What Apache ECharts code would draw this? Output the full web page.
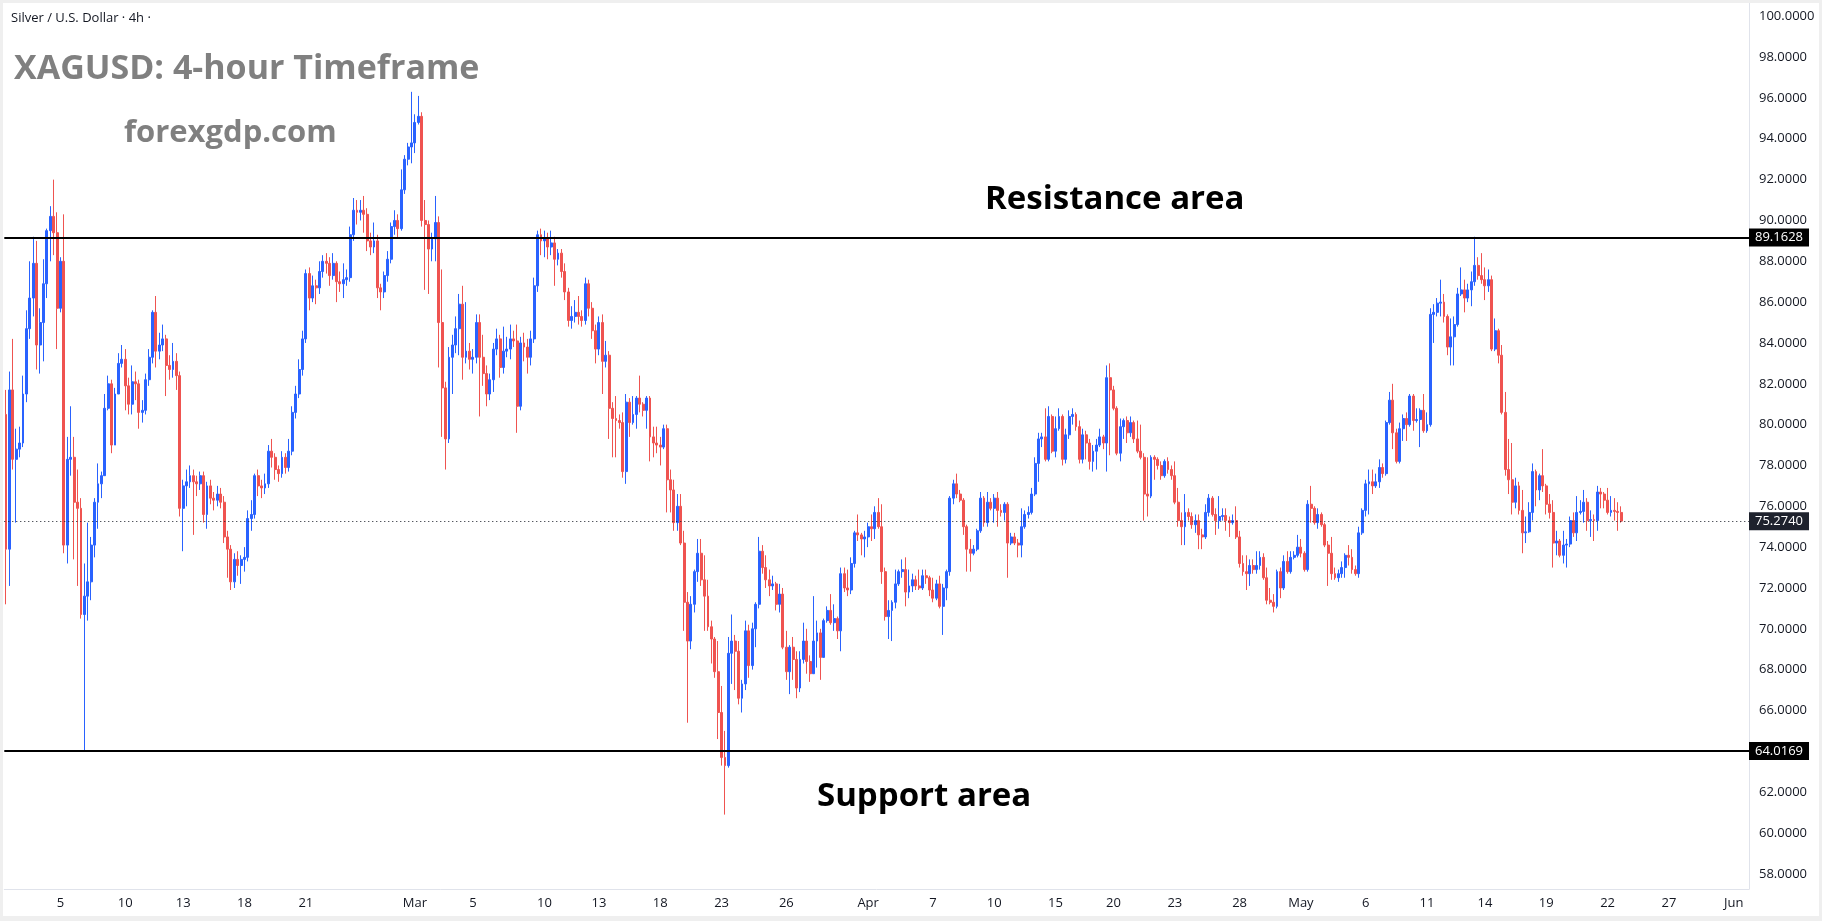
<!DOCTYPE html>
<html>
<head>
<meta charset="utf-8">
<title>XAGUSD 4h</title>
<script src="https://cdn.jsdelivr.net/npm/echarts@6/dist/echarts.min.js"></script>
<style>
  html, body { margin: 0; padding: 0; background: #efefef; width: 1822px; height: 921px; overflow: hidden; }
  #chart { position: absolute; left: 3px; top: 3px; width: 1816px; height: 913px; background: #fff; }
</style>
</head>
<body>
<div id="chart"></div>
<script>
// 4h candles: [open, close, low, high]
const candles = [
  [80.5,73.9,71.2,81.7],[73.9,81.7,72.1,82.6],[81.7,78.3,77.8,84.2],[78.3,78.8,75.2,79.8],[78.8,79.1,78.4,79.9],
  [79.1,81.5,78.9,82.4],[81.5,84.7,81.1,85.6],[84.7,86.2,84.2,88.0],[86.2,87.9,85.3,89.2],[87.9,83.9,82.7,89.0],
  [83.9,85.0,82.5,85.7],[85.0,86.9,83.1,88.1],[86.9,89.5,86.2,89.6],[89.5,90.2,88.0,90.7],[90.2,89.4,88.3,92.0],
  [89.4,85.7,83.7,90.4],[85.7,88.0,85.5,88.2],[88.0,74.1,73.7,90.3],[74.1,78.3,73.2,79.4],[78.3,78.4,77.5,80.9],
  [78.4,76.2,73.4,79.4],[76.2,75.9,72.1,77.8],[75.9,70.7,70.5,76.4],[70.7,71.6,64.0,73.2],[71.6,72.3,70.4,75.2],
  [72.3,74.1,71.4,74.5],[74.1,76.2,73.5,76.4],[76.2,77.1,74.9,78.1],[77.1,77.5,76.4,77.7],[77.5,80.8,77.5,81.5],
  [80.8,82.0,80.7,82.4],[82.0,79.0,78.6,82.2],[79.0,81.5,79.0,81.8],[81.5,83.0,81.5,83.5],[83.0,83.2,82.8,83.9],
  [83.2,81.9,80.7,83.7],[81.9,81.0,80.5,82.3],[81.0,82.1,80.5,82.9],[82.1,82.0,81.2,82.6],[82.0,80.6,79.8,82.2],
  [80.6,80.7,80.1,81.2],[80.7,82.2,80.5,82.5],[82.2,83.3,81.9,83.7],[83.3,85.5,83.0,85.6],[85.5,83.6,82.8,86.3],
  [83.6,83.9,83.2,84.5],[83.9,84.2,83.6,84.9],[84.2,82.9,81.4,84.4],[82.9,82.7,82.2,83.4],[82.7,83.1,82.3,84.0],
  [83.1,82.4,81.7,83.5],[82.4,75.9,75.5,82.6],[75.9,77.0,73.8,77.3],[77.0,77.2,76.0,77.8],[77.2,77.5,76.9,78.0],
  [77.5,77.2,74.6,77.8],[77.2,77.1,76.5,77.5],[77.1,77.5,76.8,77.7],[77.5,75.6,75.2,77.7],[75.6,77.0,74.9,77.2],
  [77.0,76.4,76.1,77.3],[76.4,76.3,75.8,76.7],[76.3,76.6,76.0,77.0],[76.6,76.2,75.9,76.9],[76.2,74.5,74.2,76.5],
  [74.5,73.9,72.5,74.8],[73.9,72.3,71.9,74.1],[72.3,73.4,72.0,73.7],[73.4,73.1,72.6,73.8],[73.1,73.4,72.2,73.6],
  [73.4,73.5,72.8,74.0],[73.5,75.4,73.3,75.8],[75.4,75.6,74.8,76.3],[75.6,77.5,75.4,77.6],[77.5,77.0,76.5,77.8],
  [77.0,76.9,76.4,77.3],[76.9,77.1,76.6,77.6],[77.1,78.7,76.9,79.0],[78.7,78.4,77.9,79.3],[78.4,77.8,77.3,78.6],
  [77.8,77.6,77.2,78.0],[77.6,78.4,77.4,78.7],[78.4,77.9,77.6,78.6],[77.9,78.7,77.7,79.3],[78.7,80.6,78.5,80.9],
  [80.6,81.5,80.3,81.9],[81.5,82.7,81.3,83.2],[82.7,84.2,82.4,84.6],[84.2,87.4,84.0,87.6],[87.4,86.2,85.6,87.7],
  [86.2,86.8,86.0,87.3],[86.8,86.7,85.9,87.1],[86.7,87.5,86.4,88.0],[87.5,88.0,87.2,88.3],[88.0,87.9,87.4,88.4],
  [87.9,87.3,86.8,88.2],[87.3,87.9,87.1,88.4],[87.9,87.0,86.0,88.0],[87.0,86.9,86.5,87.5],[86.9,87.1,86.2,87.9],
  [87.1,87.2,86.8,87.6],[87.2,89.3,87.0,89.7],[89.3,90.5,89.0,91.1],[90.5,90.4,89.8,91.0],[90.4,90.5,90.0,91.0],
  [90.5,90.3,89.4,91.2],[90.3,89.0,88.5,90.6],[89.0,88.7,88.3,89.4],[88.7,89.0,88.4,89.9],[89.0,86.7,86.2,89.3],
  [86.7,86.5,85.6,86.9],[86.5,87.3,86.2,87.5],[87.3,88.1,87.0,88.5],[88.1,89.7,87.9,89.9],[89.7,90.0,89.3,90.5],
  [90.0,89.6,89.1,90.3],[89.6,91.5,89.5,92.5],[91.5,93.0,91.3,93.2],[93.0,93.6,92.7,93.8],[93.6,93.8,92.8,96.3],
  [93.8,94.8,93.3,95.2],[94.8,95.1,94.7,96.1],[95.1,90.0,89.7,95.3],[90.0,89.8,86.6,91.0],[89.8,88.6,86.4,90.0],
  [88.6,89.1,88.0,89.4],[89.1,89.9,88.0,91.2],[89.9,85.0,82.8,90.2],[85.0,81.8,79.4,87.6],[81.8,79.3,77.8,82.1],
  [79.3,83.3,79.1,83.8],[83.3,83.9,81.5,84.4],[83.9,84.7,83.5,85.3],[84.7,85.9,83.4,86.4],[85.9,83.3,82.2,86.8],
  [83.3,83.6,83.0,86.0],[83.6,83.2,82.7,84.0],[83.2,83.3,82.5,83.7],[83.3,85.0,83.0,85.4],[85.0,83.3,80.4,85.4],
  [83.3,82.5,81.9,84.4],[82.5,81.5,80.9,82.9],[81.5,82.2,81.2,82.5],[82.2,83.7,81.6,84.0],[83.7,84.2,83.4,84.7],
  [84.2,82.8,82.3,84.4],[82.8,83.6,82.5,84.8],[83.6,83.7,83.3,84.3],[83.7,84.2,83.2,84.9],[84.2,84.1,83.8,84.6],
  [84.1,80.9,79.6,84.9],[80.9,84.0,80.7,84.3],[84.0,83.8,83.1,84.5],[83.8,83.3,82.5,84.2],[83.3,84.2,82.9,84.6],
  [84.2,86.8,84.0,87.2],[86.8,89.3,86.5,89.5],[89.3,89.0,88.3,89.6],[89.0,89.1,88.2,89.5],[89.1,88.7,88.1,89.4],
  [88.7,88.9,88.3,89.5],[88.9,88.1,86.8,89.2],[88.1,88.4,87.8,88.6],[88.4,87.5,87.2,88.6],[87.5,86.5,86.1,87.9],
  [86.5,85.1,84.8,86.7],[85.1,85.3,84.7,85.8],[85.3,85.5,85.0,86.1],[85.5,85.3,84.9,86.3],[85.3,85.1,84.8,85.6],
  [85.1,86.9,84.9,87.2],[86.9,85.7,85.3,87.1],[85.7,84.6,84.2,86.0],[84.6,83.7,83.0,84.9],[83.7,85.0,83.4,85.3],
  [85.0,83.1,81.5,85.4],[83.1,83.4,82.8,84.1],[83.4,80.8,79.3,83.6],[80.8,80.3,78.4,81.1],[80.3,80.2,78.4,81.4],
  [80.2,80.1,79.8,80.5],[80.1,77.7,77.4,80.6],[77.7,81.1,77.1,81.5],[81.1,80.1,79.4,81.3],[80.1,80.5,80.0,81.4],
  [80.5,81.3,79.8,81.4],[81.3,81.0,80.6,82.4],[81.0,80.7,80.4,81.1],[80.7,81.3,79.8,81.4],[81.3,79.4,78.2,81.4],
  [79.4,79.1,78.4,79.9],[79.1,79.0,78.6,79.9],[79.0,78.9,78.0,79.4],[78.9,79.8,78.8,80.0],[79.8,77.3,75.7,80.0],
  [77.3,76.8,75.7,77.8],[76.8,75.2,74.8,77.3],[75.2,76.0,74.8,76.6],[76.0,74.2,74.1,76.6],[74.2,71.3,69.9,74.8],
  [71.3,69.4,65.4,71.8],[69.4,71.2,69.0,71.6],[71.2,72.8,70.8,72.9],[72.8,73.7,72.3,74.4],[73.7,72.4,72.1,74.4],
  [72.4,71.6,69.9,73.6],[71.6,70.1,69.9,72.4],[70.1,69.5,68.3,70.4],[69.5,67.9,67.6,69.6],[67.9,65.9,64.6,69.4],
  [65.9,63.7,63.3,67.2],[63.7,63.3,60.9,65.0],[63.3,68.8,63.2,69.6],[68.8,69.4,67.3,70.7],[69.4,68.9,67.0,69.7],
  [68.9,66.6,66.3,69.4],[66.6,67.3,65.9,67.5],[67.3,69.9,67.0,70.4],[69.9,68.2,67.6,70.2],[68.2,70.0,68.0,70.3],
  [70.0,71.2,69.1,71.3],[71.2,73.8,71.0,74.5],[73.8,73.0,72.7,74.1],[73.0,72.4,72.0,73.6],[72.4,72.1,71.6,72.9],
  [72.1,72.2,71.9,72.6],[72.2,71.2,70.9,72.3],[71.2,71.7,70.8,72.2],[71.7,69.1,69.0,72.0],[69.1,67.9,67.5,69.9],
  [67.9,69.1,66.8,69.2],[69.1,68.5,67.5,69.6],[68.5,67.1,66.6,68.9],[67.1,68.5,66.9,68.9],[68.5,69.4,68.3,70.3],
  [69.4,68.4,67.8,70.0],[68.4,67.8,67.4,68.7],[67.8,69.4,67.8,71.6],[69.4,69.8,68.1,70.4],[69.8,68.6,67.5,70.0],
  [68.6,70.4,68.6,70.5],[70.4,70.9,70.3,71.1],[70.9,70.3,70.2,71.7],[70.3,70.5,69.9,71.2],[70.5,69.9,69.5,70.6],
  [69.9,72.7,68.9,73.0],[72.7,72.0,71.8,73.0],[72.0,71.9,71.6,72.9],[71.9,73.2,71.7,73.5],[73.2,74.7,73.0,74.8],
  [74.7,74.6,74.3,75.6],[74.6,74.4,73.6,74.7],[74.4,74.5,73.5,74.8],[74.5,75.0,74.0,75.2],[75.0,74.9,74.3,75.6],
  [74.9,75.7,74.4,76.0],[75.7,75.0,74.9,76.4],[75.0,72.8,72.2,76.1],[72.8,70.6,70.4,73.0],[70.6,70.9,69.5,71.4],
  [70.9,71.3,69.4,71.4],[71.3,72.2,71.0,72.9],[72.2,72.8,72.1,72.9],[72.8,72.9,72.5,73.4],[72.9,71.8,71.1,73.5],
  [71.8,72.1,71.5,72.9],[72.1,72.4,71.8,72.7],[72.4,72.1,71.9,72.6],[72.1,72.0,71.9,72.9],[72.0,72.6,71.9,72.9],
  [72.6,72.5,72.2,72.9],[72.5,71.9,71.6,72.6],[71.9,71.5,71.3,72.5],[71.5,72.2,71.4,72.4],[72.2,71.1,71.0,72.6],
  [71.1,72.0,69.7,72.2],[72.0,72.8,71.4,72.9],[72.8,76.4,72.6,76.5],[76.4,77.1,76.1,77.3],[77.1,76.6,76.4,77.6],
  [76.6,76.3,76.2,76.8],[76.3,75.0,74.6,76.4],[75.0,73.9,72.8,75.1],[73.9,73.7,72.8,74.4],[73.7,73.9,73.6,74.1],
  [73.9,74.8,73.8,74.9],[74.8,76.4,74.7,76.7],[76.4,75.2,75.0,76.5],[75.2,76.2,75.0,76.7],[76.2,75.9,75.8,76.4],
  [75.9,76.4,75.2,76.6],[76.4,75.8,75.0,76.7],[75.8,75.7,75.5,76.1],[75.7,76.1,75.3,76.2],[76.1,74.2,72.5,76.2],
  [74.2,74.5,74.1,74.7],[74.5,74.2,74.1,74.7],[74.2,74.1,73.5,74.4],[74.1,75.0,73.5,75.9],[75.0,75.6,74.9,75.8],
  [75.6,75.7,75.4,76.0],[75.7,76.6,75.6,76.9],[76.6,78.1,76.5,78.4],[78.1,79.3,77.2,79.6],[79.3,79.4,78.9,79.6],
  [79.4,78.3,78.2,80.8],[78.3,80.4,78.2,80.9],[80.4,78.7,78.6,80.5],[78.7,79.8,78.4,80.4],[79.8,80.4,79.7,80.8],
  [80.4,78.3,78.0,80.5],[78.3,79.5,78.1,79.8],[79.5,80.4,79.3,80.7],[80.4,80.5,80.0,80.8],[80.5,79.9,79.7,80.6],
  [79.9,78.3,78.1,80.2],[78.3,79.5,78.1,79.8],[79.5,79.1,78.3,79.7],[79.1,78.2,77.8,79.3],[78.2,78.7,77.7,79.0],
  [78.7,79.0,77.8,79.3],[79.0,79.4,78.9,79.8],[79.4,79.1,78.8,79.5],[79.1,82.3,77.7,82.9],[82.3,81.7,78.5,83.0],
  [81.7,80.8,80.7,81.9],[80.8,78.6,78.5,80.9],[78.6,79.9,78.2,80.3],[79.9,80.2,79.3,80.3],[80.2,79.6,79.1,80.4],
  [79.6,80.1,79.4,80.4],[80.1,79.3,79.1,80.2],[79.3,78.7,78.6,80.2],[78.7,78.4,78.3,80.0],[78.4,76.6,75.3,78.6],
  [76.6,76.5,75.5,78.4],[76.5,78.4,76.4,78.5],[78.4,78.3,77.3,78.5],[78.3,78.0,77.8,78.4],[78.0,77.5,77.3,78.2],
  [77.5,78.2,77.4,78.3],[78.2,77.8,77.6,78.4],[77.8,77.5,77.3,78.0],[77.5,76.2,76.1,78.2],[76.2,75.3,75.0,76.9],
  [75.3,75.0,74.1,75.7],[75.0,75.7,74.1,76.6],[75.7,75.5,75.3,75.9],[75.5,75.1,74.9,75.7],[75.1,75.3,74.7,75.6],
  [75.3,74.6,73.9,75.6],[74.6,74.5,73.9,74.9],[74.5,75.7,74.4,76.1],[75.7,76.4,75.5,76.6],[76.4,75.6,75.5,76.5],
  [75.6,75.3,74.6,75.9],[75.3,75.5,74.9,76.5],[75.5,75.55,75.3,75.9],[75.55,75.3,74.8,75.9],[75.3,75.2,74.5,75.5],
  [75.2,75.3,75.1,75.6],[75.3,74.5,74.4,76.0],[74.5,73.2,73.0,74.8],[73.2,72.8,72.6,73.6],[72.8,72.7,71.9,73.6],
  [72.7,73.1,72.1,73.4],[73.1,72.9,72.7,73.4],[72.9,73.1,72.7,73.8],[73.1,73.5,72.9,73.8],[73.5,72.5,72.4,73.7],
  [72.5,71.4,71.2,73.0],[71.4,71.3,71.2,72.0],[71.3,71.1,70.8,71.7],[71.1,72.8,71.0,72.9],[72.8,72.0,71.5,73.0],
  [72.0,73.3,71.9,73.6],[73.3,72.8,72.7,73.8],[72.8,73.5,72.7,73.8],[73.5,73.6,73.4,73.8],[73.6,74.0,73.5,74.6],
  [74.0,73.7,73.5,74.4],[73.7,72.9,72.8,73.8],[72.9,76.1,72.8,76.3],[76.1,75.9,75.2,77.0],[75.9,75.2,75.1,76.0],
  [75.2,75.6,74.9,75.9],[75.6,75.1,75.0,75.7],[75.1,74.1,74.0,75.2],[74.1,73.7,72.1,74.3],[73.7,72.7,72.4,74.5],
  [72.7,72.5,72.4,73.0],[72.5,72.7,72.3,72.9],[72.7,73.0,72.5,73.3],[73.0,73.6,72.5,73.7],[73.6,73.5,73.1,74.1],
  [73.5,72.9,72.7,73.9],[72.9,72.7,72.6,73.1],[72.7,74.7,72.5,75.0],[74.7,75.8,74.6,75.9],[75.8,77.1,75.5,77.3],
  [77.1,77.2,75.6,77.8],[77.2,77.0,76.6,77.8],[77.0,77.2,76.9,77.6],[77.2,77.9,76.9,78.3],[77.9,77.6,77.4,78.1],
  [77.6,80.1,77.5,80.2],[80.1,81.2,80.0,81.6],[81.2,79.6,78.8,82.0],[79.6,78.2,78.1,79.8],[78.2,79.8,78.1,80.1],
  [79.8,80.3,79.2,80.5],[80.3,80.0,79.2,80.6],[80.0,81.4,79.9,81.5],[81.4,80.2,79.7,81.5],[80.2,80.25,80.1,80.8],
  [80.25,80.7,78.9,80.8],[80.7,79.7,79.6,81.5],[79.7,80.0,79.6,80.6],[80.0,85.4,79.9,85.7],[85.4,85.5,84.0,85.9],
  [85.5,85.95,85.3,86.2],[85.95,86.0,85.3,87.1],[86.0,85.3,85.0,86.4],[85.3,83.8,83.4,85.4],[83.8,84.3,82.9,85.2],
  [84.3,84.9,82.9,85.3],[84.9,86.4,84.8,86.7],[86.4,86.6,86.3,87.7],[86.6,86.2,85.5,87.1],[86.2,86.6,86.0,86.9],
  [86.6,87.0,85.8,87.5],[87.0,87.8,86.8,89.2],[87.8,87.3,87.1,88.2],[87.3,87.1,86.9,88.4],[87.1,86.8,86.1,87.7],
  [86.8,87.1,86.5,87.6],[87.1,83.7,83.6,87.3],[83.7,84.6,83.6,85.2],[84.6,83.4,83.0,84.7],[83.4,80.6,80.5,83.9],
  [80.6,77.8,77.5,81.6],[77.8,77.3,76.6,79.3],[77.3,76.2,75.6,79.1],[76.2,77.0,75.9,77.4],[77.0,75.8,75.6,77.2],
  [75.8,74.7,73.7,76.8],[74.7,74.75,74.2,75.5],[74.75,75.7,74.7,76.2],[75.7,77.7,75.3,78.1],[77.7,76.8,76.0,77.8],
  [76.8,77.5,76.3,77.6],[77.5,77.0,76.7,78.8],[77.0,76.1,75.6,77.1],[76.1,75.7,75.4,76.6],[75.7,74.2,73.0,76.3],
  [74.2,74.3,73.6,74.8],[74.3,73.6,73.5,74.4],[73.6,74.1,73.2,74.8],[74.1,74.15,73.0,74.4],[74.15,75.3,74.0,75.5],
  [75.3,74.7,74.5,75.7],[74.7,75.7,74.3,76.5],[75.7,75.75,75.6,76.3],[75.75,76.2,75.2,76.8],[76.2,75.3,74.8,76.4],
  [75.3,75.35,74.5,75.8],[75.35,75.3,74.3,75.6],[75.3,76.7,74.8,77.0],[76.7,76.6,75.9,76.9],[76.6,76.3,75.9,76.7],
  [76.3,75.7,75.6,76.9],[75.7,75.8,75.5,76.5],[75.8,75.75,75.3,76.4],[75.75,75.7,74.8,76.2],[75.7,75.274,75.2,76.0]
];

// horizontal levels
const resistance = 89.1628;
const support = 64.0169;
const lastPrice = 75.274;

// price scale labels on the right
const priceTicks = [58,60,62,64,66,68,70,72,74,76,78,80,82,84,86,88,90,92,94,96,98,100];

// date labels: slot index on the time axis and its text
const dateSlots  = [16, 35, 52, 70, 88, 120, 137, 158, 174, 192, 210, 229, 253, 272, 290, 308, 325, 343, 362, 380, 399, 417, 434, 452, 470, 488, 507];
const dateLabels = ['5','10','13','18','21','Mar','5','10','13','18','23','26','Apr','7','10','15','20','23','28','May','6','11','14','19','22','27','Jun'];
const slotCount = 512;

const categories = [];
for (let i = 0; i < slotCount; i++) categories.push('');
dateSlots.forEach((s, k) => { categories[s] = dateLabels[k]; });

const chart = echarts.init(document.getElementById('chart'));

const axisFont = '"Open Sans", "Noto Sans", sans-serif';
const boldFont = '"Open Sans", "Noto Sans", sans-serif';

const option = {
  animation: false,
  backgroundColor: '#ffffff',
  grid: { left: 0, right: 70, top: 0, bottom: 27 },
  xAxis: {
    type: 'category',
    data: categories,
    boundaryGap: true,
    axisLine: { show: true, lineStyle: { color: '#e0e3eb', width: 1 } },
    axisTick: { show: false },
    splitLine: { show: false },
    axisLabel: { interval: 0, color: '#131722', fontSize: 13, fontFamily: axisFont, margin: 8 }
  },
  yAxis: {
    type: 'value',
    position: 'right',
    min: 57.256,
    max: 100.651,
    axisLine: { show: true, lineStyle: { color: '#e0e3eb', width: 1 } },
    axisTick: { show: false },
    splitLine: { show: false },
    axisLabel: {
      customValues: priceTicks,
      formatter: v => v.toFixed(4),
      color: '#131722', fontSize: 13, fontFamily: axisFont, margin: 10
    }
  },
  series: [{
    type: 'candlestick',
    data: candles,
    barWidth: 2.4,
    itemStyle: {
      color: '#2962ff', color0: '#ef5350',
      borderColor: '#2962ff', borderColor0: '#ef5350',
      borderWidth: 1
    },
    markLine: {
      silent: true,
      symbol: ['none', 'none'],
      animation: false,
      label: {
        show: true, position: 'end', distance: 0,
        color: '#ffffff', fontSize: 13, fontFamily: axisFont,
        padding: [3, 6, 2, 6]
      },
      data: [
        { yAxis: resistance, lineStyle: { color: '#000000', width: 2, type: 'solid' },
          label: { formatter: resistance.toFixed(4), backgroundColor: '#000000' } },
        { yAxis: support, lineStyle: { color: '#000000', width: 2, type: 'solid' },
          label: { formatter: support.toFixed(4), backgroundColor: '#000000' } },
        { yAxis: lastPrice, lineStyle: { color: '#131722', width: 1, type: [1, 3] },
          label: { formatter: lastPrice.toFixed(4), backgroundColor: '#1e222d' } }
      ]
    }
  }],
  graphic: [
    { type: 'text', x: 8, y: 15, style: { text: 'Silver / U.S. Dollar · 4h ·', fill: '#131722',
      font: '13px ' + axisFont, verticalAlign: 'middle' } },
    { type: 'text', x: 11, y: 66, style: { text: 'XAGUSD: 4-hour Timeframe', fill: '#808080',
      font: 'bold 34px ' + boldFont, verticalAlign: 'middle' } },
    { type: 'text', x: 121, y: 130, style: { text: 'forexgdp.com', fill: '#808080',
      font: 'bold 31px ' + boldFont, verticalAlign: 'middle' } },
    { type: 'text', x: 982, y: 197, style: { text: 'Resistance area', fill: '#000000',
      font: 'bold 33px ' + boldFont, verticalAlign: 'middle' } },
    { type: 'text', x: 814, y: 794, style: { text: 'Support area', fill: '#000000',
      font: 'bold 33px ' + boldFont, verticalAlign: 'middle' } }
  ]
};

chart.setOption(option);
</script>
</body>
</html>
